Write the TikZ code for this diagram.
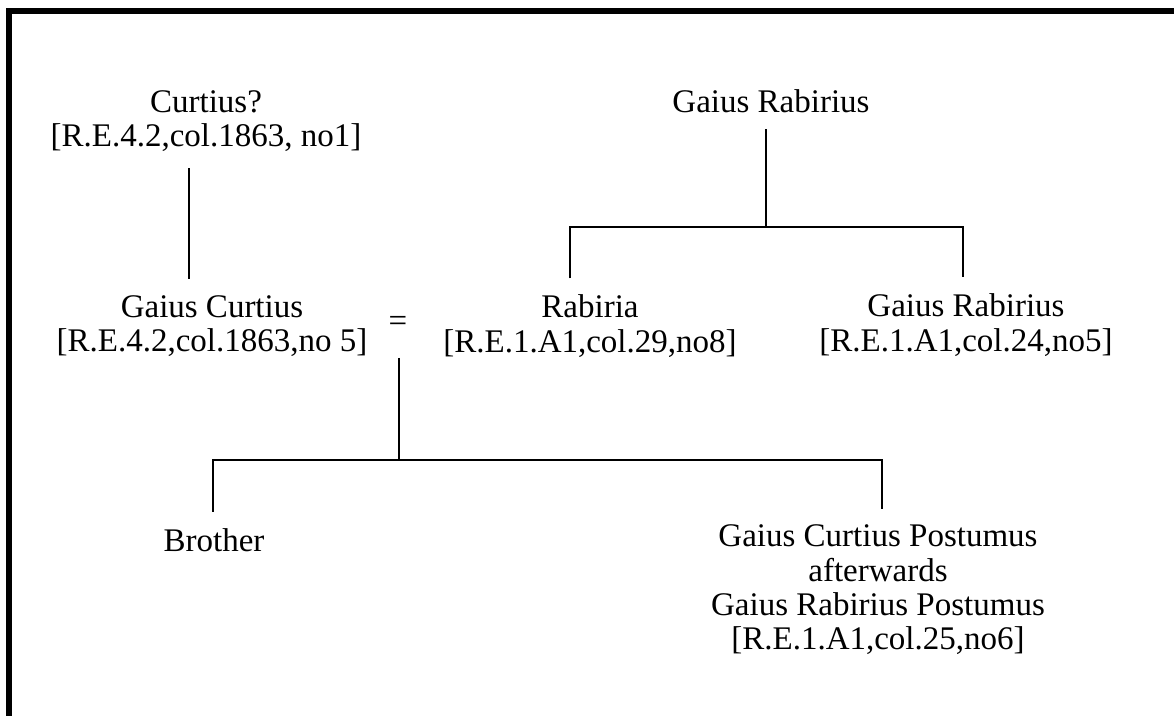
\documentclass[tikz,border=0pt]{standalone}
\usepackage{fontspec}
\setmainfont{Liberation Serif}
\usepackage{tikz}

\begin{document}
\begin{tikzpicture}[x=0.5pt,y=-0.5pt]
        \useasboundingbox (0,0) rectangle (1174,716);
        \tikzset{nom/.style={align=center,inner sep=8pt,font=\fontsize{16.5}{17.2}\selectfont}}
        \tikzset{lien/.style={line width=1.1pt}}
        \draw[line width=3pt] (8.5,716) -- (8.5,11) -- (1174,11);
        \node[nom] (CQ) at (206,121) {Curtius?\\{}[R.E.4.2,col.1863, no1]};
        \node[nom] (GC) at (212,326) {Gaius Curtius\\{}[R.E.4.2,col.1863,no 5]};
        \node[nom] (EQ) at (398,324) {=};
        \node[nom] (GR) at (771,101) {Gaius Rabirius};
        \node[nom] (RA) at (590,326) {Rabiria\\{}[R.E.1.A1,col.29,no8]};
        \node[nom] (GR2) at (966,325) {Gaius Rabirius\\{}[R.E.1.A1,col.24,no5]};
        \node[nom] (BR) at (214,540) {Brother};
        \node[nom] (GCP) at (878,590) {Gaius Curtius Postumus\\afterwards\\Gaius Rabirius Postumus\\{}[R.E.1.A1,col.25,no6]};
        \coordinate (CD) at (189,0);
        \coordinate (RJ) at (766,227);
        \coordinate (RL) at (570,227);
        \coordinate (RR) at (963,227);
        \coordinate (CJ) at (399,460);
        \coordinate (CL) at (213,460);
        \coordinate (CR) at (882,460);
        \draw[lien] (CQ.south -| CD) -- (GC.north -| CD);
        \draw[lien] (GR.south -| RJ) -- (RJ);
        \draw[lien] (RA.north -| RL) -- (RL) -- (RR) -- (GR2.north -| RR);
        \draw[lien,shorten <=5pt] (EQ.south -| CJ) -- (CJ);
        \draw[lien] (BR.north -| CL) -- (CL) -- (CR) -- (GCP.north -| CR);
\end{tikzpicture}
\end{document}
